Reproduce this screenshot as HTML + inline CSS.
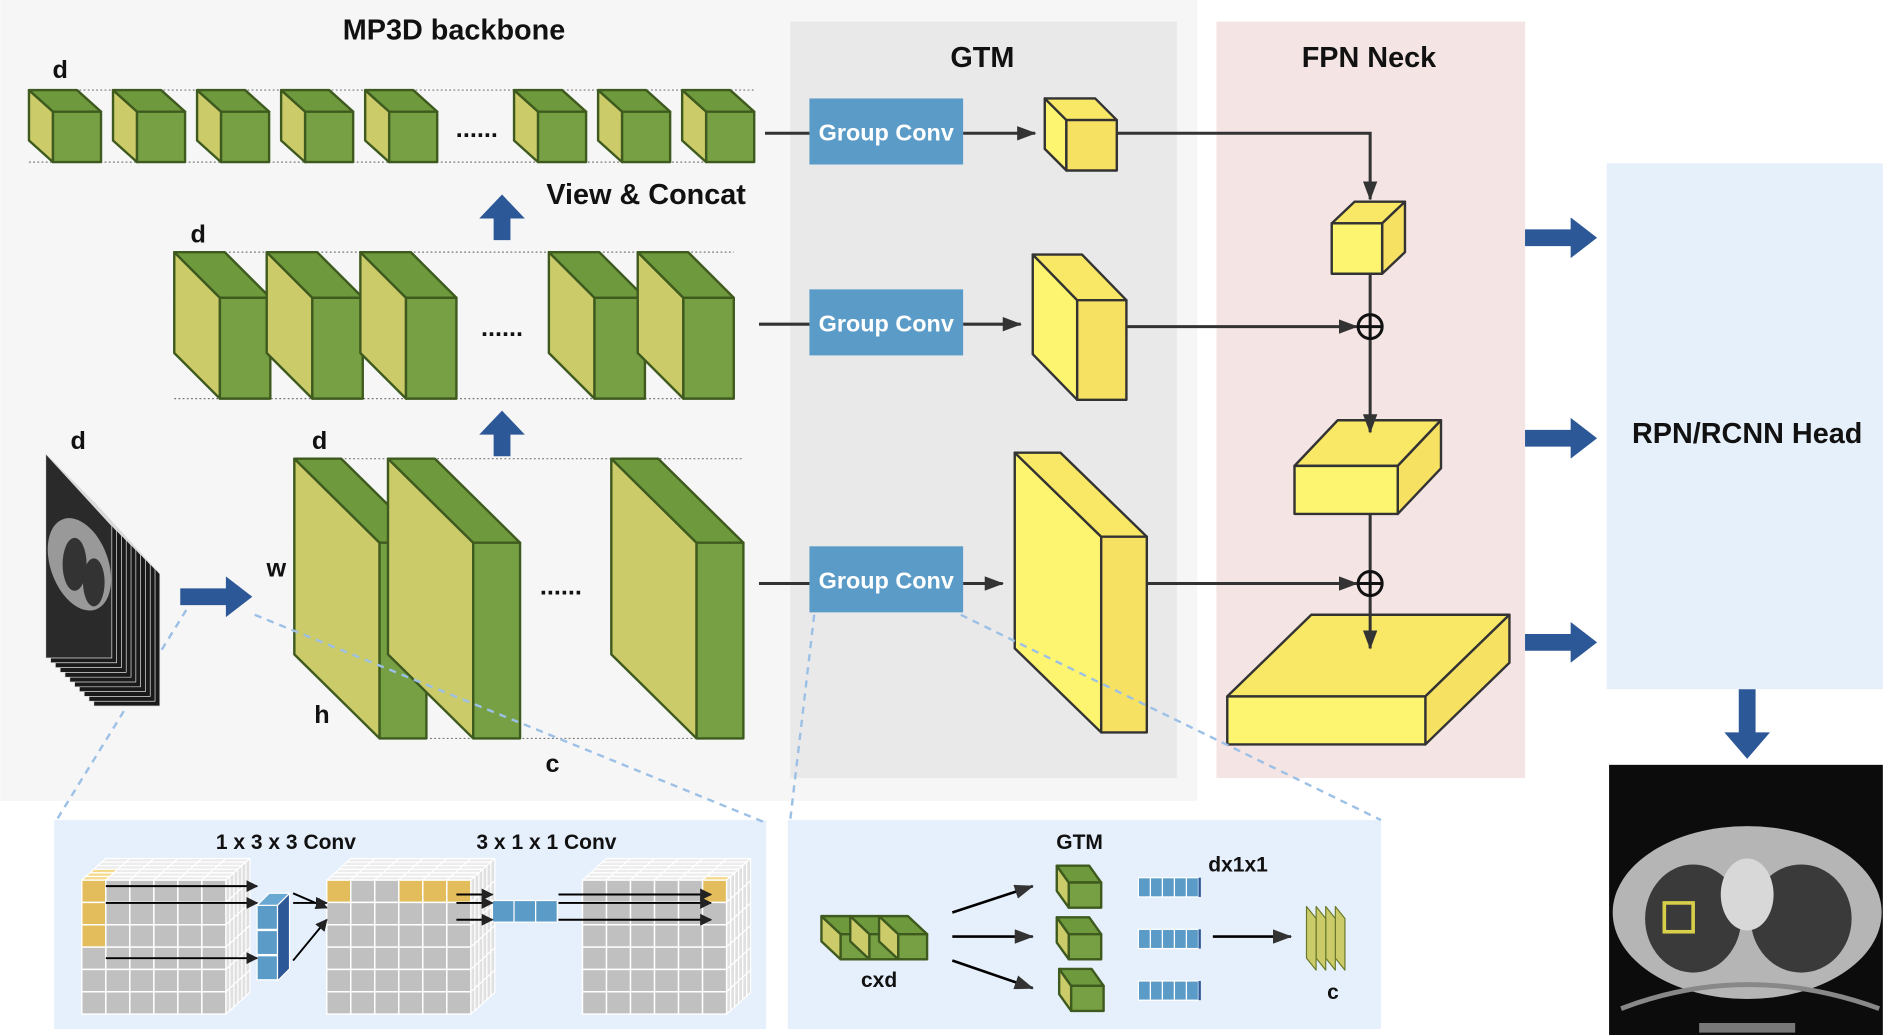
<!DOCTYPE html>
<html><head><meta charset="utf-8"><style>
html,body{margin:0;padding:0;background:#fff;}
svg{display:block;font-family:"Liberation Sans",sans-serif;}
</style></head><body>
<svg id="s" width="1883" height="1035" viewBox="0 0 1568 862" xmlns="http://www.w3.org/2000/svg">
<defs>
<marker id="ah" markerWidth="10" markerHeight="10" refX="9" refY="5" orient="auto" markerUnits="userSpaceOnUse"><path d="M0,0 L10,5 L0,10 z" fill="#222"/></marker>
<marker id="ah2" markerWidth="16" markerHeight="12" refX="15" refY="6" orient="auto" markerUnits="userSpaceOnUse"><path d="M0,0 L16,6 L0,12 z" fill="#333"/></marker>
</defs>
<rect x="0" y="0" width="997" height="667" fill="#f6f6f6"/>
<rect x="658" y="18" width="322" height="630" fill="#e9e9e9"/>
<rect x="1013" y="18" width="257" height="630" fill="#f4e4e4"/>
<rect x="1338" y="136" width="230" height="438" fill="#e6f0fb"/>
<rect x="45" y="683" width="593" height="174" fill="#e6f0fc"/>
<rect x="656" y="683" width="494" height="174" fill="#e6f0fc"/>
<g fill="#111" font-weight="bold" font-size="24" text-anchor="middle">
<text x="378" y="33">MP3D backbone</text>
<text x="818" y="56">GTM</text>
<text x="1140" y="56">FPN Neck</text>
<text x="538" y="170">View &amp; Concat</text>
<text x="1455" y="369">RPN/RCNN Head</text>
</g>
<g fill="#111" font-weight="bold" font-size="21" text-anchor="middle">
<text x="50" y="65">d</text><text x="165" y="202">d</text><text x="65" y="374">d</text>
<text x="266" y="374">d</text><text x="230" y="480">w</text><text x="268" y="602">h</text><text x="460" y="643">c</text>
<text x="397" y="114">......</text><text x="418" y="280">......</text><text x="467" y="495">......</text>
</g>
<g stroke="#777" stroke-dasharray="1.5,2" stroke-width="1" fill="none">
<line x1="24" y1="75" x2="628" y2="75"/><line x1="24" y1="135" x2="628" y2="135"/>
<line x1="145" y1="210" x2="611" y2="210"/><line x1="145" y1="332" x2="611" y2="332"/>
<line x1="245" y1="382" x2="619" y2="382"/><line x1="316" y1="615" x2="619" y2="615"/>
</g>
<g id="cubes"></g>
<g stroke="#9cc0e6" stroke-width="2" stroke-dasharray="6,5" fill="none">
<line x1="155" y1="508" x2="47" y2="683"/><line x1="212" y1="512" x2="637" y2="685"/>
<line x1="678" y1="512" x2="658" y2="683"/><line x1="800" y1="512" x2="1150" y2="683"/>
</g>
<g stroke="#333" stroke-width="2.5" fill="none">
<line x1="637" y1="111" x2="674" y2="111"/><line x1="802" y1="111" x2="862" y2="111" marker-end="url(#ah2)"/>
<line x1="632" y1="270" x2="674" y2="270"/><line x1="802" y1="270" x2="850" y2="270" marker-end="url(#ah2)"/>
<line x1="632" y1="486" x2="674" y2="486"/><line x1="802" y1="486" x2="835" y2="486" marker-end="url(#ah2)"/>
<polyline points="930,111 1141,111 1141,166" marker-end="url(#ah2)"/>
<line x1="1141" y1="228" x2="1141" y2="262"/>
<line x1="938" y1="272" x2="1130" y2="272" marker-end="url(#ah2)"/>
<line x1="1141" y1="282" x2="1141" y2="360" marker-end="url(#ah2)"/>
<line x1="1141" y1="428" x2="1141" y2="476"/>
<line x1="955" y1="486" x2="1130" y2="486" marker-end="url(#ah2)"/>
<line x1="1141" y1="496" x2="1141" y2="540" marker-end="url(#ah2)"/>
</g>
<g stroke="#111" stroke-width="2.5" fill="none">
<circle cx="1141" cy="272" r="10"/><line x1="1131" y1="272" x2="1151" y2="272"/><line x1="1141" y1="262" x2="1141" y2="282"/>
<circle cx="1141" cy="486" r="10"/><line x1="1131" y1="486" x2="1151" y2="486"/><line x1="1141" y1="476" x2="1141" y2="496"/>
</g>
<g fill="#5b9bc8"><rect x="674" y="82" width="128" height="55"/><rect x="674" y="241" width="128" height="55"/><rect x="674" y="455" width="128" height="55"/></g>
<g fill="#fff" font-weight="bold" font-size="19.5" text-anchor="middle">
<text x="738" y="117">Group Conv</text><text x="738" y="276">Group Conv</text><text x="738" y="490">Group Conv</text>
</g>
<g fill="#2c5897" id="barrows"></g>
<g id="ct"></g>
<rect x="1340" y="637" width="228" height="225" fill="#0c0c0c"/>
<ellipse cx="1455" cy="760" rx="112" ry="72" fill="#b5b5b5"/>
<ellipse cx="1410" cy="765" rx="40" ry="45" fill="#3a3a3a"/>
<ellipse cx="1500" cy="765" rx="42" ry="45" fill="#3a3a3a"/>
<ellipse cx="1455" cy="745" rx="22" ry="30" fill="#d8d8d8"/>
<path d="M1350,840 Q1455,800 1565,840" stroke="#888" stroke-width="4" fill="none"/>
<rect x="1415" y="852" width="80" height="8" fill="#777"/>
<rect x="1386" y="752" width="24" height="24" fill="none" stroke="#d8d04a" stroke-width="3"/>
<g fill="#111" font-weight="bold" font-size="17.5" text-anchor="middle">
<text x="238" y="707">1 x 3 x 3 Conv</text><text x="455" y="707">3 x 1 x 1 Conv</text>
<text x="899" y="707">GTM</text><text x="1031" y="726">dx1x1</text>
<text x="732" y="822">cxd</text><text x="1110" y="832">c</text>
</g>
<g id="bot"></g>
</svg>
<script>
const NS="http://www.w3.org/2000/svg";
function el(p,tag,a){const e=document.createElementNS(NS,tag);for(const k in a)e.setAttribute(k,a[k]);document.getElementById(p).appendChild(e);return e;}
function poly(p,pts,fill,stroke,sw){el(p,'polygon',{points:pts.map(q=>q.join(',')).join(' '),fill:fill,stroke:stroke,'stroke-width':sw||2,'stroke-linejoin':'round'});}
function cubeL(p,fx,fy,fw,fh,dx,dy,side,front,top,st){
 poly(p,[[fx-dx,fy-dy],[fx,fy],[fx,fy+fh],[fx-dx,fy+fh-dy]],side,st);
 poly(p,[[fx-dx,fy-dy],[fx+fw-dx,fy-dy],[fx+fw,fy],[fx,fy]],top,st);
 poly(p,[[fx,fy],[fx+fw,fy],[fx+fw,fy+fh],[fx,fy+fh]],front,st);
}
function cubeR(p,fx,fy,fw,fh,dx,dy,side,front,top,st){
 poly(p,[[fx,fy],[fx+dx,fy-dy],[fx+fw+dx,fy-dy],[fx+fw,fy]],top,st);
 poly(p,[[fx+fw,fy],[fx+fw+dx,fy-dy],[fx+fw+dx,fy+fh-dy],[fx+fw,fy+fh]],side,st);
 poly(p,[[fx,fy],[fx+fw,fy],[fx+fw,fy+fh],[fx,fy+fh]],front,st);
}
const GS='#cccb69',GF='#76a043',GT='#6e9a3d',GK='#3e5a1e';
[24,94,164,234,304,428,498,568].forEach(x=>cubeL('cubes',x+20,93,40,42,20,18,GS,GF,GT,GK));
[183,260,338,495,569].forEach(x=>cubeL('cubes',x,248,42,84,38,38,GS,GF,GT,GK));
[316,394,580].forEach(x=>cubeL('cubes',x,452,39,163,71,70,GS,GF,GT,GK));
const YS='#fdf470',YF='#f7e163',YT='#f9e866',YK='#333';
cubeL('cubes',888,100,42,42,18,18,YS,YF,YT,YK);
cubeL('cubes',897,250,41,83,37,38,YS,YF,YT,YK);
cubeL('cubes',917,447,38,163,72,70,YS,YF,YT,YK);
cubeR('cubes',1109,186,42,42,19,18,YF,YS,YT,YK);
cubeR('cubes',1078,388,86,40,36,38,YF,YS,YT,YK);
cubeR('cubes',1022,580,165,40,70,68,YF,YS,YT,YK);
function rArrow(x1,x2,y){poly('barrows',[[x1,y-7],[x2-22,y-7],[x2-22,y-17],[x2,y],[x2-22,y+17],[x2-22,y+7],[x1,y+7]],'#2c5897','none',0);}
function uArrow(x,y1,y2){poly('barrows',[[x-7,y1],[x-7,y2+20],[x-19,y2+20],[x,y2],[x+19,y2+20],[x+7,y2+20],[x+7,y1]],'#2c5897','none',0);}
rArrow(150,210,497);rArrow(1270,1330,198);rArrow(1270,1330,365);rArrow(1270,1330,535);
uArrow(418,200,162);uArrow(418,380,342);
poly('barrows',[[1448,574],[1462,574],[1462,610],[1474,610],[1455,632],[1436,610],[1448,610]],'#2c5897','none',0);
for(let i=10;i>=0;i--){const ox=38+i*4,oy=378+i*4;poly('ct',[[ox,oy],[ox+55,oy+60],[ox+55,oy+230-60],[ox,oy+170]],i==0?'#2a2a2a':'#1a1a1a','#ddd',0.6);}
el('ct','ellipse',{cx:66,cy:470,rx:24,ry:40,fill:'#999',transform:'rotate(-20 66 470)'});
el('ct','ellipse',{cx:62,cy:470,rx:10,ry:22,fill:'#333'});el('ct','ellipse',{cx:78,cy:485,rx:9,ry:20,fill:'#333'});
function gridCube(x,y,yellowCells){
 const cw=20,ch=18.6,n=6,dx=20,dy=18;
 for(let k=0;k<6;k++){
  for(let c=0;c<n;c++){const t=k/6,t2=(k+1)/6;
   poly('bot',[[x+c*cw+dx*(1-t),y-dy*(1-t)],[x+(c+1)*cw+dx*(1-t),y-dy*(1-t)],[x+(c+1)*cw+dx*(1-t2),y-dy*(1-t2)],[x+c*cw+dx*(1-t2),y-dy*(1-t2)]],(yellowCells.top||[]).includes(k*10+c)?'#f5d98a':'#ececec','#fff',1);}
  for(let r=0;r<n;r++){const t=k/6,t2=(k+1)/6;
   poly('bot',[[x+n*cw+dx*(1-t),y+r*ch-dy*(1-t)],[x+n*cw+dx*(1-t2),y+r*ch-dy*(1-t2)],[x+n*cw+dx*(1-t2),y+(r+1)*ch-dy*(1-t2)],[x+n*cw+dx*(1-t),y+(r+1)*ch-dy*(1-t)]],'#e0e0e0','#fff',1);}
 }
 for(let r=0;r<n;r++)for(let c=0;c<n;c++)
  el('bot','rect',{x:x+c*cw,y:y+r*ch,width:cw,height:ch,fill:(yellowCells.front||[]).includes(r*10+c)?'#e3bc5c':'#c0c0c0',stroke:'#fff','stroke-width':1.2});
}
gridCube(68,733,{front:[0,10,20],top:[50,40,30]});
gridCube(272,733,{front:[0,3,4,5],top:[]});
gridCube(485,733,{front:[5],top:[55]});
for(let i=0;i<3;i++){el('bot','rect',{x:214,y:754+i*21,width:17,height:20,fill:'#5b9bc8',stroke:'#fff'});}
poly('bot',[[231,754],[241,744],[241,807],[231,817]],'#2c5897','#fff',1);
poly('bot',[[214,754],[224,744],[241,744],[231,754]],'#6aa8d4','#fff',1);
for(let i=0;i<3;i++){el('bot','rect',{x:410+i*18,y:750,width:18,height:18,fill:'#5b9bc8',stroke:'#fff'});}
const A=[[88,738,214,738],[88,752,214,752],[88,798,214,798],[244,744,272,756],[244,752,272,752],[244,800,272,766],[380,745,410,745],[380,752,410,752],[380,766,410,766],[465,745,592,745],[465,752,592,752],[465,766,592,766]];
A.forEach(a=>el('bot','line',{x1:a[0],y1:a[1],x2:a[2],y2:a[3],stroke:'#000','stroke-width':1.6,'marker-end':'url(#ah)'}));
for(let i=0;i<3;i++) cubeL('bot',700+i*24,778,24,21,16,15,GS,GF,GT,GK);
[[880,735],[880,778],[882,821]].forEach(p=>cubeL('bot',p[0]+10,p[1],27,21,10,14,GS,GF,GT,GK));
[[793,760,860,738],[793,780,860,780],[793,800,860,823],[1010,780,1075,780]].forEach(a=>el('bot','line',{x1:a[0],y1:a[1],x2:a[2],y2:a[3],stroke:'#000','stroke-width':2.2,'marker-end':'url(#ah2)'}));
[731,774,817].forEach(y=>{for(let i=0;i<5;i++){el('bot','rect',{x:948+i*10,y:y,width:10,height:16,fill:'#5b9bc8',stroke:'#fff','stroke-width':1});}el('bot','rect',{x:998,y:y,width:2,height:16,fill:'#2c5897'});});
for(let i=3;i>=0;i--){const x=1088+i*8;poly('bot',[[x,755],[x+8,765],[x+8,808],[x,798]],'#cccb69','#6a7a2a',1);}
</script>
</body></html>
